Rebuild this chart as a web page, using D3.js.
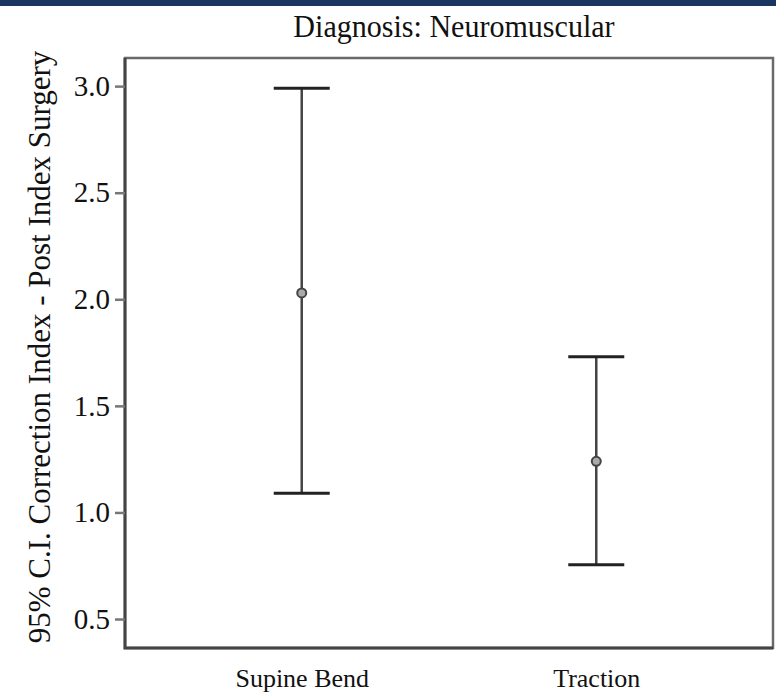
<!DOCTYPE html>
<html>
<head>
<meta charset="utf-8">
<script src="https://cdn.jsdelivr.net/npm/d3@7"></script>
<style>
  body { margin: 0; background: #fff; }
  svg text { font-family: "Liberation Serif", "DejaVu Serif", serif; fill: #111; }
</style>
</head>
<body>
<svg id="chart" width="776" height="694"></svg>
<script>
// values
var groups = ["Supine Bend", "Traction"];
var means = [2.03, 1.24];
var lower = [1.09, 0.755];
var upper = [2.99, 1.73];
var yTicks = [0.5, 1.0, 1.5, 2.0, 2.5, 3.0];

var margin = {top: 58, right: 3, bottom: 46, left: 125};
var width = 776 - margin.left - margin.right;
var height = 694 - margin.top - margin.bottom;

var root = d3.select("#chart");

// dark band along the top edge
root.append("rect")
  .attr("x", 0).attr("y", 0)
  .attr("width", 776).attr("height", 6)
  .attr("fill", "#1b365e");

root.append("text")
  .attr("x", 454).attr("y", 37)
  .attr("text-anchor", "middle")
  .style("font-size", "31px")
  .attr("transform", "translate(454,0) scale(0.97,1) translate(-454,0)")
  .text("Diagnosis: Neuromuscular");

var svg = root.append("g")
  .attr("transform", "translate(" + margin.left + "," + margin.top + ")");

var x = d3.scalePoint()
  .domain(groups)
  .range([0, width])
  .padding(0.6);

var y = d3.scaleLinear()
  .domain([0.364, 3.132])
  .range([height, 0]);

// frame
svg.append("rect")
  .attr("width", width).attr("height", height)
  .attr("fill", "none")
  .attr("stroke", "#6a6a6a")
  .attr("stroke-width", 2.5);
svg.append("path")
  .attr("d", "M0,0V" + height + "H" + width)
  .attr("fill", "none")
  .attr("stroke", "#444")
  .attr("stroke-width", 3);

var yAxis = svg.append("g")
  .call(d3.axisLeft(y).tickValues(yTicks).tickFormat(d3.format(".1f")).tickSize(10).tickPadding(5));
yAxis.select(".domain").remove();
yAxis.selectAll(".tick line").attr("stroke", "#777").attr("stroke-width", 2.5);
yAxis.selectAll(".tick text").style("font-size", "29px").attr("fill", "#111");

var xAxis = svg.append("g")
  .attr("transform", "translate(0," + height + ")")
  .call(d3.axisBottom(x).tickSize(0).tickPadding(21));
xAxis.select(".domain").remove();
xAxis.selectAll(".tick text").style("font-size", "26px").attr("fill", "#111");

svg.append("text")
  .attr("transform", "rotate(-90)")
  .attr("x", -(height / 2) + 6)
  .attr("y", -75)
  .attr("text-anchor", "middle")
  .style("font-size", "31px")
  .text("95% C.I. Correction Index - Post Index Surgery");

var capW = 28;
var bars = svg.selectAll("g.bar")
  .data(groups)
  .enter().append("g")
  .attr("class", "bar");

bars.append("line")
  .attr("x1", function(d) { return x(d); })
  .attr("x2", function(d) { return x(d); })
  .attr("y1", function(d, i) { return y(lower[i]); })
  .attr("y2", function(d, i) { return y(upper[i]); })
  .attr("stroke", "#444").attr("stroke-width", 2.5);

bars.append("line")
  .attr("x1", function(d) { return x(d) - capW; })
  .attr("x2", function(d) { return x(d) + capW; })
  .attr("y1", function(d, i) { return y(upper[i]); })
  .attr("y2", function(d, i) { return y(upper[i]); })
  .attr("stroke", "#222").attr("stroke-width", 3);

bars.append("line")
  .attr("x1", function(d) { return x(d) - capW; })
  .attr("x2", function(d) { return x(d) + capW; })
  .attr("y1", function(d, i) { return y(lower[i]); })
  .attr("y2", function(d, i) { return y(lower[i]); })
  .attr("stroke", "#222").attr("stroke-width", 3);

bars.append("circle")
  .attr("cx", function(d) { return x(d); })
  .attr("cy", function(d, i) { return y(means[i]); })
  .attr("r", 4.5)
  .attr("fill", "#aaa")
  .attr("stroke", "#444")
  .attr("stroke-width", 2);
</script>
</body>
</html>
